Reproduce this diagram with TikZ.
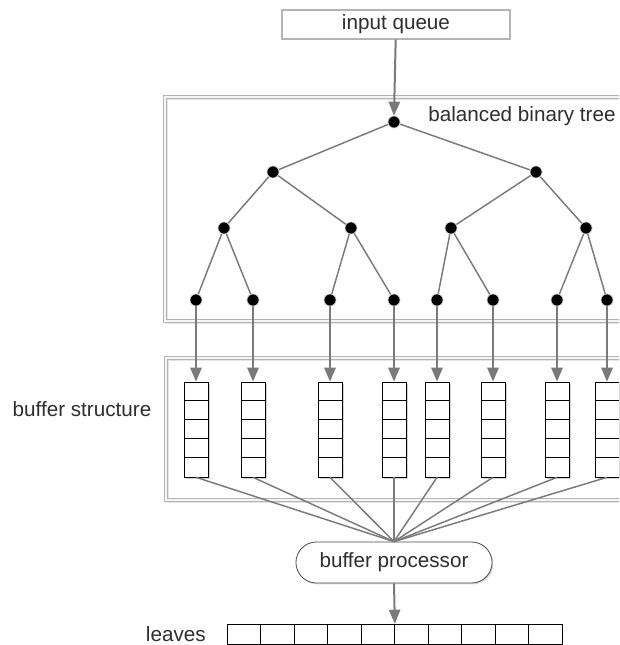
\documentclass[tikz,border=0pt]{standalone}
\usepackage{fontspec}
\setmainfont{Liberation Sans}
\usetikzlibrary{arrows.meta,shadows,shapes.misc}
\definecolor{linegray}{HTML}{7A7A7A}
\definecolor{framegray}{HTML}{B4B4B4}
\definecolor{textgray}{HTML}{2E2E2E}

\begin{document}
\begin{tikzpicture}
[x=0.75pt,y=-0.75pt,%%%%%%%%%%%%%%%%%%%%%%%%%%%%%%
lbl/.style={text=textgray, font=\fontsize{15.5}{18}\selectfont, inner sep=0pt},
frame/.style={draw=framegray, line width=0.7pt, double=gray!8, double distance=1pt},
dot/.style={circle, fill=black, draw=gray!30, line width=0.5pt, inner sep=0pt, minimum size=9pt},
edge/.style={draw=linegray, line width=1.1pt},
arr/.style={draw=linegray, line width=1.5pt, -{Triangle[length=10.5pt,width=8.5pt]}},
buf/.style={rectangle, draw=black, line width=0.5pt, fill=white, minimum width=18pt, minimum height=71.25pt, inner sep=0pt,
  drop shadow={opacity=0.35, shadow xshift=1.2pt, shadow yshift=-1.2pt}},
cell/.style={rectangle, draw=black, line width=0.5pt, fill=white, minimum width=25.125pt, minimum height=15pt, inner sep=0pt},
]%%%%%%%%%%%%%%%%%%%%%%%%%%%%%%
\clip (0,0) rectangle (619,645);

% frames round the tree and the buffers
\draw[gray!20, line width=1.2pt] (167,99) rectangle (662,323);
\draw[frame] (165,97) rectangle (660,321);
\draw[gray!20, line width=1.2pt] (168,360) rectangle (662,502);
\draw[frame] (166,358) rectangle (660,500);

\node[lbl, anchor=base] (treelbl) at (522,122) {balanced binary tree};
\node[lbl, anchor=base] (buflbl) at (82,416) {buffer structure};
\node[lbl, anchor=base east] (leaflbl) at (206,641) {leaves};

% input queue
\node[rectangle, draw=framegray, line width=1pt, fill=white, minimum width=171pt, minimum height=21.75pt,
  drop shadow={opacity=0.3, shadow xshift=1pt, shadow yshift=-1pt},
  text=textgray, font=\fontsize{15.5}{18}\selectfont] (queue) at (396,24.5) {input queue};

% tree
\node[dot] (r) at (394,122){};
\node[dot] (a1) at (273,172){};
\node[dot] (a2) at (536,172){};
\node[dot] (c1) at (224,228){};
\node[dot] (c2) at (351,228){};
\node[dot] (c3) at (451,228){};
\node[dot] (c4) at (586,228){};

\foreach \x [count=\i] in {196,253,330,394,437,493,557,607}{
\node[dot] (t\i) at (\x,300){};
\node[buf] (b\i) at (\x,429.5){};
\foreach \k in {1,...,4}
\draw[line width=0.5pt] ([yshift=-14.25*\k pt]b\i.north west) -- ([yshift=-14.25*\k pt]b\i.north east);
\draw[arr] (t\i) -- (b\i.north);
}

\draw[edge] (a1) -- (r) -- (a2);
\draw[edge] (c1) -- (a1) -- (c2);
\draw[edge] (c3) -- (a2) -- (c4);
\draw[edge] (t1) -- (c1) -- (t2);
\draw[edge] (t3) -- (c2) -- (t4);
\draw[edge] (t5) -- (c3) -- (t6);
\draw[edge] (t7) -- (c4) -- (t8);
\foreach \n in {r,a1,a2,c1,c2,c3,c4,t1,t2,t3,t4,t5,t6,t7,t8}
\node[dot] at (\n){};

\draw[arr] (queue) -- (r.north);

% buffer processor
\node[rounded rectangle, draw=black!70, line width=0.6pt, fill=white, minimum width=153.75pt, minimum height=30.75pt,
  drop shadow={opacity=0.3, shadow xshift=1pt, shadow yshift=-1pt},
  text=textgray, font=\fontsize{15.5}{18}\selectfont] (proc) at (394,562.5) {buffer processor};
\foreach \i in {1,...,8}
\draw[edge] (b\i.south) -- (proc.north);

% leaves
\foreach \k in {1,...,10}
\node[cell] (l\k) at (210.25+33.5*\k,634){};
\draw[arr] (proc.south) -- (l5.north east);
\end{tikzpicture}
\end{document}
